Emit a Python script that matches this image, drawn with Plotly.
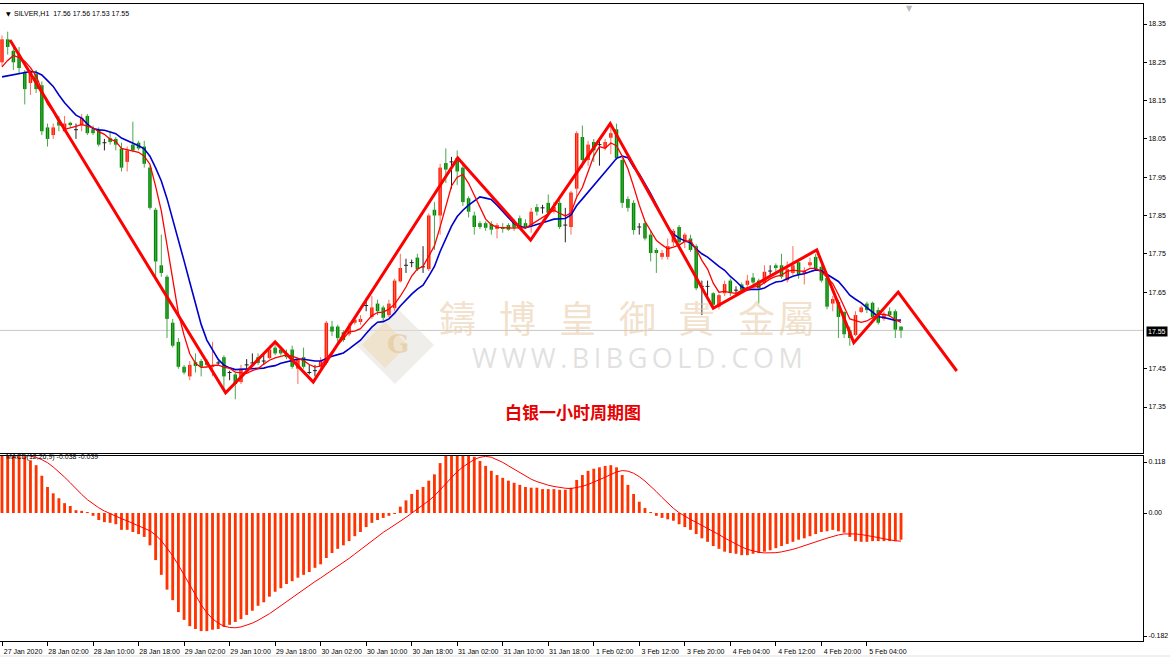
import plotly.graph_objects as go
import pandas as pd

# ---------------- DATA ----------------
opens = [18.25,18.31,18.28,18.27,18.225,18.196,18.22,18.19,18.08,18.06,
         18.095,18.07,18.092,18.074,18.085,18.11,18.075,18.075,18.04,18.052,
         18.05,18.025,17.99,18.035,18.04,18.03,17.975,17.865,17.72,17.69,
         17.57,17.52,17.455,17.43,17.467,17.47,17.468,17.455,17.465,17.48,
         17.44,17.435,17.415,17.46,17.465,17.48,17.47,17.478,17.505,17.5,
         17.49,17.5,17.45,17.48,17.44,17.445,17.455,17.465,17.56,17.56,
         17.545,17.54,17.57,17.572,17.615,17.585,17.62,17.61,17.59,17.608,
         17.678,17.72,17.727,17.74,17.716,17.71,17.865,17.85,17.987,17.99,
         18.0,17.975,17.895,17.85,17.83,17.83,17.828,17.815,17.82,17.825,
         17.833,17.843,17.83,17.825,17.872,17.87,17.883,17.86,17.883,17.825,
         17.82,17.92,18.055,17.995,18.042,18.035,18.026,18.053,18.075,17.995,
         17.893,17.883,17.82,17.83,17.8,17.76,17.742,17.742,17.78,17.82,
         17.78,17.79,17.77,17.665,17.665,17.647,17.612,17.647,17.68,17.655,
         17.67,17.669,17.688,17.68,17.674,17.705,17.72,17.72,17.681,17.7,
         17.728,17.698,17.72,17.742,17.716,17.687,17.62,17.624,17.598,17.55,
         17.538,17.598,17.62,17.622,17.603,17.58,17.6,17.6,17.56]
highs = [18.32,18.33,18.29,18.29,18.23,18.23,18.23,18.2,18.09,18.09,
         18.11,18.11,18.095,18.09,18.115,18.115,18.085,18.08,18.05,18.07,
         18.055,18.04,18.03,18.095,18.045,18.045,17.98,17.87,17.8,17.695,
         17.58,17.53,17.46,17.47,17.49,17.475,17.475,17.52,17.47,17.485,
         17.445,17.44,17.46,17.475,17.49,17.49,17.49,17.51,17.52,17.505,
         17.5,17.51,17.48,17.505,17.46,17.46,17.48,17.575,17.575,17.565,
         17.55,17.57,17.585,17.59,17.635,17.64,17.63,17.615,17.63,17.685,
         17.75,17.737,17.735,17.75,17.77,17.855,17.885,17.985,18.025,18.003,
         18.02,17.985,17.9,17.86,17.835,17.835,17.835,17.83,17.83,17.83,
         17.84,17.85,17.84,17.87,17.88,17.878,17.905,17.885,17.89,17.87,
         17.915,18.07,18.085,18.045,18.05,18.045,18.05,18.09,18.09,18.0,
         17.9,17.89,17.83,17.835,17.81,17.765,17.76,17.79,17.815,17.825,
         17.805,17.8,17.775,17.68,17.68,17.65,17.645,17.68,17.685,17.665,
         17.675,17.695,17.7,17.685,17.72,17.72,17.725,17.75,17.73,17.77,
         17.735,17.715,17.74,17.75,17.72,17.69,17.64,17.63,17.6,17.56,
         17.6,17.615,17.625,17.625,17.61,17.6,17.61,17.605,17.56]
lows = [18.24,18.27,18.23,18.22,18.14,18.165,18.17,18.06,18.03,18.05,
        18.07,18.07,18.08,18.05,18.07,18.06,18.06,18.03,18.02,18.035,
        18.02,17.965,17.965,18.015,18.02,17.975,17.865,17.69,17.69,17.53,
        17.505,17.45,17.435,17.42,17.44,17.43,17.455,17.43,17.46,17.395,
        17.42,17.37,17.41,17.45,17.46,17.46,17.46,17.475,17.485,17.485,
        17.475,17.45,17.41,17.45,17.435,17.43,17.45,17.46,17.535,17.52,
        17.52,17.535,17.565,17.565,17.6,17.58,17.59,17.575,17.585,17.6,
        17.675,17.7,17.715,17.705,17.7,17.705,17.76,17.8,17.935,17.92,
        17.93,17.875,17.845,17.8,17.815,17.81,17.8,17.79,17.805,17.81,
        17.81,17.815,17.815,17.805,17.85,17.855,17.85,17.855,17.815,17.78,
        17.8,17.9,17.975,17.98,17.99,17.98,18.02,18.01,17.995,17.87,
        17.86,17.8,17.8,17.785,17.73,17.7,17.735,17.735,17.77,17.765,
        17.765,17.755,17.655,17.59,17.64,17.61,17.605,17.64,17.64,17.645,
        17.65,17.665,17.67,17.62,17.67,17.695,17.7,17.685,17.675,17.695,
        17.685,17.67,17.715,17.705,17.675,17.605,17.6,17.53,17.53,17.51,
        17.535,17.595,17.595,17.58,17.565,17.575,17.585,17.53,17.53]
closes = [18.31,18.29,18.25,18.235,18.18,18.225,18.18,18.07,18.05,18.08,
          18.085,18.09,18.086,18.074,18.105,18.065,18.065,18.035,18.04,18.042,
          18.035,17.975,18.02,18.02,18.025,17.985,17.87,17.73,17.70,17.58,
          17.51,17.455,17.44,17.46,17.457,17.455,17.46,17.46,17.465,17.43,
          17.44,17.41,17.45,17.46,17.465,17.465,17.47,17.5,17.49,17.49,
          17.48,17.455,17.475,17.455,17.44,17.445,17.47,17.57,17.547,17.53,
          17.525,17.56,17.578,17.58,17.615,17.61,17.6,17.583,17.62,17.68,
          17.713,17.72,17.727,17.71,17.716,17.85,17.85,17.975,17.97,17.99,
          17.965,17.885,17.86,17.82,17.82,17.818,17.813,17.825,17.815,17.813,
          17.818,17.82,17.82,17.86,17.86,17.87,17.857,17.872,17.82,17.825,
          17.91,18.065,17.995,18.035,18.02,18.035,18.042,18.065,18.0,17.883,
          17.87,17.812,17.82,17.79,17.752,17.752,17.752,17.77,17.81,17.78,
          17.8,17.76,17.66,17.665,17.665,17.617,17.642,17.671,17.648,17.655,
          17.656,17.68,17.675,17.66,17.703,17.705,17.713,17.69,17.71,17.72,
          17.695,17.706,17.728,17.71,17.68,17.612,17.632,17.585,17.54,17.53,
          17.59,17.61,17.603,17.585,17.57,17.593,17.59,17.552,17.55]

# fast (5) and slow (10) moving averages: values at the left edge
ma_fast_head = [18.238, 18.255, 18.268, 18.262]
ma_slow_head = [18.212, 18.215, 18.218, 18.222, 18.225, 18.226, 18.224, 18.217, 18.202]

# zigzag (bar position, price), last leg is the projection
zz_bar = [1.4, 39.3, 48.0, 54.7, 80.1, 92.9, 106.9, 125.0, 143.2, 149.7, 157.5, 167.8]
zz_price = [18.308, 17.387, 17.52, 17.415, 18.0, 17.786, 18.09, 17.608, 17.76, 17.518, 17.65, 17.444]

# MACD main (histogram)
macd_main = [0.083,0.083,0.082,0.082,0.081,0.075,0.068,0.053,0.037,0.028,
             0.021,0.014,0.010,0.004,0.003,0.001,-0.004,-0.010,-0.013,-0.014,
             -0.016,-0.024,-0.024,-0.027,-0.030,-0.034,-0.046,-0.067,-0.088,-0.109,
             -0.124,-0.141,-0.152,-0.161,-0.165,-0.168,-0.168,-0.166,-0.165,-0.162,
             -0.159,-0.155,-0.151,-0.145,-0.139,-0.132,-0.127,-0.119,-0.112,-0.107,
             -0.101,-0.097,-0.092,-0.088,-0.084,-0.078,-0.073,-0.064,-0.057,-0.051,
             -0.046,-0.040,-0.033,-0.027,-0.020,-0.014,-0.010,-0.007,-0.004,-0.001,
             0.009,0.018,0.027,0.033,0.037,0.046,0.055,0.071,0.083,0.087,
             0.090,0.088,0.085,0.080,0.074,0.067,0.060,0.054,0.050,0.046,
             0.043,0.040,0.037,0.036,0.036,0.034,0.034,0.034,0.033,0.033,
             0.036,0.047,0.054,0.060,0.063,0.065,0.067,0.068,0.065,0.054,
             0.040,0.027,0.016,0.007,0.001,-0.004,-0.007,-0.009,-0.011,-0.016,
             -0.020,-0.024,-0.030,-0.036,-0.041,-0.047,-0.051,-0.055,-0.057,-0.058,
             -0.060,-0.060,-0.058,-0.057,-0.055,-0.053,-0.050,-0.047,-0.044,-0.041,
             -0.038,-0.036,-0.033,-0.030,-0.027,-0.026,-0.024,-0.026,-0.028,-0.034,
             -0.040,-0.041,-0.041,-0.040,-0.040,-0.040,-0.040,-0.040,-0.038]

tick_bars = [0, 8, 16, 24, 32, 40, 48, 56, 64, 72, 80, 88, 96, 104, 112, 120, 128, 136, 144, 152]
tick_labels = ["27 Jan 2020", "28 Jan 02:00", "28 Jan 10:00", "28 Jan 18:00", "29 Jan 02:00",
               "29 Jan 10:00", "29 Jan 18:00", "30 Jan 02:00", "30 Jan 10:00", "30 Jan 18:00",
               "31 Jan 02:00", "31 Jan 10:00", "31 Jan 18:00", "1 Feb 02:00", "3 Feb 12:00",
               "3 Feb 20:00", "4 Feb 04:00", "4 Feb 12:00", "4 Feb 20:00", "5 Feb 04:00"]
price_ticks = [18.35, 18.25, 18.15, 18.05, 17.95, 17.85, 17.75, 17.65, 17.45, 17.35]
price_tick_labels = ["18.35", "18.25", "18.15", "18.05", "17.95", "17.85", "17.75", "17.65", "17.45", "17.35"]
last_price = 17.55
macd_tick_labels = ["0.118", "0.00", "-0.182"]
title_text = "SILVER,H1  17.56 17.56 17.53 17.55"
macd_text = "MACD(12,26,9) -0.038 -0.039"
caption = "白银一小时周期图"
wm_chars = ["鑄", "博", "皇", "御", "貴", "金", "屬"]
wm_url = "W\u2009W\u2009W\u2009.\u2009B\u2009I\u2009B\u2009G\u2009O\u2009L\u2009D\u2009.\u2009C\u2009O\u2009M"

# ---------------- LAYOUT GEOMETRY (pixels) ----------------
W, H = 1170, 657
PLOT_RIGHT = 1143
MAIN_TOP, MAIN_BOT = 4, 453
MACD_TOP, MACD_BOT = 456, 641
X0, PX_BAR = 2.0, 5.69
P_REF, P_REF_Y, P_PX = 18.35, 24.0, 383.0
M_ZERO_Y, M_PX = 513.0, 703.0

def py(y):
    return 1 - y / H

def px(x):
    return x / W

def price_at(y):
    return P_REF - (y - P_REF_Y) / P_PX

def macd_at(y):
    return (M_ZERO_Y - y) / M_PX

UP = "#ff1a00"
DN = "#008a00"
FONT = "Liberation Sans"

n = len(closes)
idx = list(range(n))
df = pd.DataFrame({"o": opens, "h": highs, "l": lows, "c": closes})

ma_fast = df["c"].rolling(5).mean().tolist()
ma_fast[:len(ma_fast_head)] = ma_fast_head
ma_slow = df["c"].rolling(10).mean().tolist()
ma_slow[:len(ma_slow_head)] = ma_slow_head
signal = pd.Series(macd_main).rolling(9, min_periods=1).mean().tolist()

fig = go.Figure()

def wick_trace(ids, color):
    xs, ys = [], []
    for i in ids:
        xs += [i, i, None]
        ys += [lows[i], highs[i], None]
    return go.Scatter(x=xs, y=ys, mode="lines", line=dict(color=color, width=1),
                      hoverinfo="skip", showlegend=False, xaxis="x", yaxis="y")

up_ids = [i for i in idx if closes[i] > opens[i]]
dn_ids = [i for i in idx if closes[i] < opens[i]]
dj_ids = [i for i in idx if closes[i] == opens[i]]

fig.add_trace(wick_trace(up_ids, "#ff6a5a"))
fig.add_trace(wick_trace(dn_ids, "#4aa84a"))
fig.add_trace(wick_trace(dj_ids, "#222222"))

for ids, color in ((up_ids, UP), (dn_ids, DN)):
    fig.add_trace(go.Bar(x=ids, base=[min(opens[i], closes[i]) for i in ids],
                         y=[abs(closes[i] - opens[i]) for i in ids],
                         width=0.62, marker=dict(color=color, line=dict(width=0)),
                         hoverinfo="skip", showlegend=False, xaxis="x", yaxis="y"))

# doji horizontal ticks
dx, dy = [], []
for i in dj_ids:
    dx += [i - 0.35, i + 0.35, None]
    dy += [opens[i], opens[i], None]
fig.add_trace(go.Scatter(x=dx, y=dy, mode="lines", line=dict(color="#222222", width=1),
                         hoverinfo="skip", showlegend=False, xaxis="x", yaxis="y"))

# moving averages
fig.add_trace(go.Scatter(x=idx, y=ma_slow, mode="lines", line=dict(color="#0000cc", width=1.6),
                         hoverinfo="skip", showlegend=False, xaxis="x", yaxis="y"))
fig.add_trace(go.Scatter(x=idx, y=ma_fast, mode="lines", line=dict(color="#ff0000", width=1.3),
                         hoverinfo="skip", showlegend=False, xaxis="x", yaxis="y"))
# zigzag
fig.add_trace(go.Scatter(x=zz_bar, y=zz_price, mode="lines", line=dict(color="#ff0000", width=3),
                         hoverinfo="skip", showlegend=False, xaxis="x", yaxis="y"))

# MACD
fig.add_trace(go.Bar(x=idx, y=macd_main, width=0.5, marker=dict(color="#ff3300", line=dict(width=0)),
                     hoverinfo="skip", showlegend=False, xaxis="x2", yaxis="y2"))
fig.add_trace(go.Scatter(x=idx, y=signal, mode="lines", line=dict(color="#ff0000", width=1),
                         hoverinfo="skip", showlegend=False, xaxis="x2", yaxis="y2"))

xr = [(0 - X0) / PX_BAR, (PLOT_RIGHT - X0) / PX_BAR]
dom_x = [0, PLOT_RIGHT / W]
axis_font = dict(family=FONT, size=7, color="#000000")

fig.update_layout(
    width=W, height=H, margin=dict(l=0, r=0, t=0, b=0),
    paper_bgcolor="#ffffff", plot_bgcolor="#ffffff",
    barmode="overlay", showlegend=False,
    xaxis=dict(domain=dom_x, range=xr, anchor="y", showticklabels=False, ticks="",
               showgrid=False, zeroline=False, showline=True, mirror=True,
               linecolor="#000000", linewidth=1),
    yaxis=dict(domain=[py(MAIN_BOT), py(MAIN_TOP)], anchor="x", side="right",
               range=[price_at(MAIN_BOT), price_at(MAIN_TOP)],
               tickvals=price_ticks, ticktext=price_tick_labels, tickfont=axis_font,
               ticks="outside", ticklen=3, tickcolor="#000000",
               showgrid=False, zeroline=False, showline=True, mirror=True,
               linecolor="#000000", linewidth=1),
    xaxis2=dict(domain=dom_x, range=xr, anchor="y2", tickvals=tick_bars, ticktext=tick_labels,
                tickfont=axis_font, ticks="outside", ticklen=4, tickcolor="#000000",
                ticklabelshift=21, showgrid=False, zeroline=False, showline=True, mirror=True,
                linecolor="#000000", linewidth=1),
    yaxis2=dict(domain=[py(MACD_BOT), py(MACD_TOP)], anchor="x2", side="right",
                range=[macd_at(MACD_BOT), macd_at(MACD_TOP)],
                tickvals=[macd_at(462), 0.0, macd_at(636)], ticktext=macd_tick_labels,
                tickfont=axis_font, ticks="outside", ticklen=3, tickcolor="#000000",
                showgrid=False, zeroline=False, showline=True, mirror=True,
                linecolor="#000000", linewidth=1),
)

# bid line
fig.add_shape(type="line", xref="paper", yref="y", x0=0, x1=PLOT_RIGHT / W,
              y0=last_price, y1=last_price, line=dict(color="#c8c8c8", width=1), layer="below")

# watermark logo
fig.add_shape(type="path", xref="paper", yref="paper",
              path="M {0},{1} L {2},{3} L {4},{5} L {6},{7} Z".format(
                  px(395), py(306), px(434), py(345), px(395), py(384), px(356), py(345)),
              fillcolor="rgba(228,224,218,0.55)", line=dict(width=0), layer="below")
fig.add_shape(type="path", xref="paper", yref="paper",
              path="M {0},{1} L {2},{3} L {4},{5} L {6},{7} Z".format(
                  px(385), py(322), px(408), py(345), px(385), py(368), px(362), py(345)),
              fillcolor="rgba(240,218,180,0.55)", line=dict(width=0), layer="below")

ann = []
ann.append(dict(x=px(385), y=py(344), text="<b>G</b>", showarrow=False,
                font=dict(family="DejaVu Serif", size=26, color="rgba(225,195,150,0.6)")))
for ch, cx in zip(wm_chars, [457, 517, 577, 637, 696, 756, 817]):
    ann.append(dict(x=px(cx), y=py(317), text=ch, showarrow=False,
                    font=dict(family="Noto Sans CJK TC", size=37, color="rgba(232,200,160,0.55)")))
ann.append(dict(x=px(637), y=py(357), text=wm_url, showarrow=False,
                font=dict(family="Open Sans", size=27, color="rgba(195,195,195,0.5)")))

ann.append(dict(x=px(573), y=py(411), text="<b>" + caption + "</b>", showarrow=False,
                font=dict(family="Noto Sans CJK SC", size=17, color="#e60000")))
ann.append(dict(x=px(4), y=py(8), text="▼", showarrow=False, xanchor="left",
                font=dict(family="DejaVu Sans", size=6, color="#000000")))
ann.append(dict(x=px(12), y=py(8), text=title_text, showarrow=False, xanchor="left",
                font=dict(family=FONT, size=7, color="#000000")))
ann.append(dict(x=px(4), y=py(463), text=macd_text, showarrow=False, xanchor="left",
                font=dict(family=FONT, size=7, color="#000000")))
ann.append(dict(x=px(1146), y=py(331), text=f"{last_price:.2f}", showarrow=False, xanchor="left",
                bgcolor="#000000", borderpad=1,
                font=dict(family=FONT, size=7, color="#ffffff")))
ann.append(dict(x=px(915), y=py(2), text="▼", showarrow=False,
                font=dict(family="DejaVu Sans", size=8, color="#b8b8b8")))
for a in ann:
    a.setdefault("xref", "paper")
    a.setdefault("yref", "paper")
fig.update_layout(annotations=ann)

fig.add_shape(type="rect", xref="paper", yref="paper", x0=0, x1=1, y0=0, y1=py(655),
              fillcolor="#f0f0f0", line=dict(width=0))

fig.write_html("out.html")
